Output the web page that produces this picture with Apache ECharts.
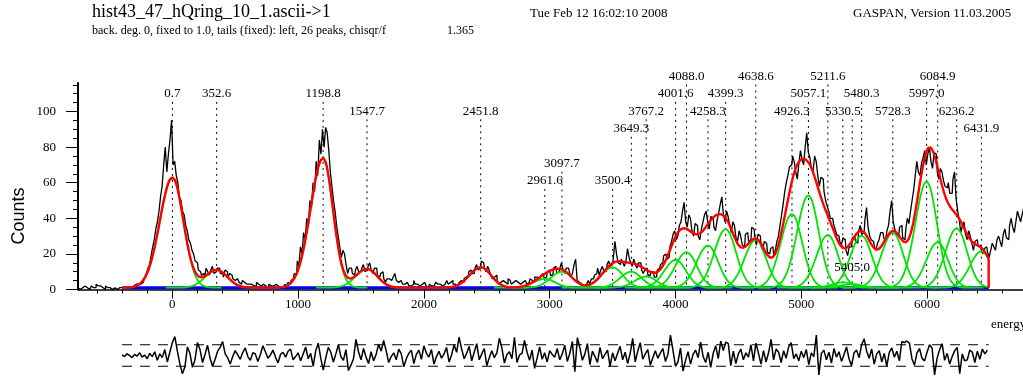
<!DOCTYPE html>
<html>
<head>
<meta charset="utf-8">
<script src="https://cdn.jsdelivr.net/npm/echarts@6/dist/echarts.min.js"></script>
<style>
  html, body { margin: 0; padding: 0; background: #fff; }
  #chart { width: 1023px; height: 377px; }
</style>
</head>
<body>
<div id="chart"></div>
<script>
// ---- measured spectrum: counts in 12.5 keV bins, first bin centred at -750 ----
const histStart = -750;
const binWidth = 12.5;
const counts = [
  // -750 .. -262.5
  1,0,0,1,2,1,1,0,1,2,1,1,3,2,2,1,1,0,2,1,1,2,0,1,1,0,1,2,1,1,2,1,1,0,1,2,2,3,3,2,
  // -250 .. 237.5
  3,4,5,7,9,12,14,19,24,28,34,38,44,52,58,70,80,66,76,84,95,70,72,64,60,52,50,44,42,36,33,28,26,22,20,16,15,11,10,8,
  // 250 .. 737.5
  9,7,12,10,8,11,13,9,10,12,12,9,9,7,11,10,7,9,8,6,5,6,6,4,3,5,4,3,2,3,3,4,2,2,4,3,2,3,3,2,
  // 750 .. 1237.5
  2,1,3,2,2,3,3,2,2,1,1,2,3,2,4,3,5,6,9,8,16,13,24,20,32,28,40,36,50,46,60,55,72,64,84,76,90,80,91,88,
  // 1250 .. 1737.5
  78,66,58,50,44,36,30,24,18,22,20,14,9,12,12,9,8,11,13,10,10,12,14,10,11,13,15,11,9,12,12,8,7,9,10,6,4,6,6,5,
  // 1750 .. 2237.5
  5,7,9,5,4,5,6,3,3,4,4,2,2,3,5,3,3,2,2,3,4,3,2,1,3,2,2,3,4,3,3,2,2,3,4,5,3,4,5,3,
  // 2250 .. 2737.5
  3,2,2,4,5,4,6,7,8,10,11,9,9,12,14,11,12,16,15,12,10,13,11,8,6,7,8,5,3,4,5,6,4,3,6,5,3,4,5,6,
  // 2750 .. 3237.5
  4,3,2,4,5,6,3,4,6,5,4,7,7,6,5,8,9,6,7,10,11,8,8,12,13,9,10,12,15,11,9,12,12,10,7,9,14,17,5,4,
  // 3250 .. 3737.5
  3,4,2,3,4,5,3,6,6,8,9,12,8,11,13,10,10,14,16,13,14,18,27,20,15,14,17,15,13,16,23,18,15,13,17,14,12,15,15,11,
  // 3750 .. 4237.5
  9,11,12,8,8,10,10,7,7,11,12,14,15,19,20,17,18,24,27,31,33,28,30,36,38,44,49,38,35,42,40,33,30,37,36,30,28,34,38,42,
  // 4250 .. 4737.5
  44,38,34,41,40,35,33,39,43,48,52,42,38,44,41,36,32,38,36,29,27,33,30,25,24,31,32,27,28,35,34,29,25,31,30,24,22,27,26,21,
  // 4750 .. 5237.5
  20,23,24,19,22,27,30,36,42,48,55,60,64,69,70,75,72,66,62,71,78,73,70,80,88,77,74,68,66,75,72,64,58,63,62,55,50,47,44,40,
  // 5250 .. 5737.5
  40,37,34,31,30,27,25,29,28,22,19,24,24,29,30,27,26,33,36,31,32,39,46,35,30,28,27,24,22,26,28,32,32,29,27,33,36,44,50,38,
  // 5750 .. 6237.5
  34,31,30,35,36,29,28,34,40,37,44,50,56,64,72,66,64,71,74,78,70,76,80,72,68,77,76,66,62,68,66,61,58,57,60,54,54,62,66,51,
  // 6250 .. 6737.5
  44,39,32,36,38,31,28,33,30,26,22,27,28,24,25,22,20,23,24,21,18,22,26,24,22,28,30,27,24,31,34,29,28,36,40,35,32,38,44,41,
  // 6750 .. 6775
  38,42,46
];

// ---- fit: constant background plus 26 peaks with a left tail ----
const fitRange = [-400, 6490];
const background = 1.0;
const peakCentroids = [0.7, 352.6, 1198.8, 1547.7, 2451.8, 2961.6, 3097.7, 3500.4, 3649.3, 3767.2,
  4001.6, 4088.0, 4258.3, 4399.3, 4638.6, 4926.3, 5057.1, 5211.6, 5330.5, 5405.0,
  5480.3, 5728.3, 5997.0, 6084.9, 6236.2, 6431.9];
const peakHeights = [62, 10, 73, 10.6, 11.5, 5, 9, 11.5, 9, 6.3,
  15.7, 20, 23.7, 33, 27, 41.5, 52, 29.7, 3, 2,
  29.3, 31, 59.7, 25.6, 33.4, 20.5];
const peakSigmaLeft = [100, 90, 100, 90, 90, 90, 90, 90, 90, 90,
  90, 90, 90, 90, 90, 90, 90, 90, 90, 90,
  90, 90, 90, 90, 90, 90];
const peakSigmaRight = [87, 85, 78, 82, 82, 82, 82, 82, 82, 82,
  82, 82, 82, 82, 82, 82, 82, 82, 82, 82,
  82, 82, 82, 82, 82, 82];

// ---- normalised residuals, 20 keV steps from -400 ----
const residualStart = -400;
const residualStep = 20;
const residuals = [
  0.1,-0.2,0.3,0,-0.4,0.2,-0.1,0.5,-0.3,0.1,-0.6,0.4,-0.2,0.7,-0.9,0.3,-0.4,1.1,-1.2,0.6,
  2.4,3.5,0.8,-1.6,-3.4,-2.1,1.6,0.4,-2.2,-0.8,2.4,1.1,-1.3,0.2,1.9,-0.5,-2.0,-0.7,0.8,1.5,
  2.6,0.3,-0.4,-1.6,-0.2,0.9,0.1,-0.7,0.6,1.4,-0.2,-0.9,0.5,0.3,-1.1,0.2,1.8,0.7,-0.5,0.1,
  1.0,-0.3,-1.4,0.2,0.6,-0.3,0.8,1.2,-0.8,-0.2,0.5,-1.0,0.3,1.6,-0.6,0.4,-2.0,0.9,2.3,-0.5,
  -2.7,-0.4,1.5,0.6,-1.2,0.3,2.0,-0.2,-0.9,1.1,-2.8,-1.8,-0.6,3.0,0.7,-0.8,1.3,-0.3,-1.5,0.7,
  -1.0,0.2,2.1,0.8,2.8,0.9,-1.3,-0.2,0.5,-0.8,1.2,0.3,-2.1,-0.6,0.4,1.0,-1.5,0.2,1.0,-0.7,
  1.8,0.4,-0.3,1.1,-1.6,-0.2,0.8,-0.5,0.3,1.5,-1.2,0.1,2.0,0.6,3.4,1.2,-0.6,0.4,1.7,-1.0,
  0.6,2.2,-0.8,0.3,1.3,-1.9,-0.4,0.9,-0.4,0.5,3.2,1.4,-1.4,0.2,0.7,-0.6,3.4,-1.3,0.1,0.4,
  2.8,0.6,-0.9,1.0,-2.4,-0.5,1.6,-0.7,0.5,-1.2,0.9,0.2,-0.3,1.3,-0.8,0.3,1.9,-1.1,0.4,2.6,
  -3.0,3.3,1.4,-0.9,0.3,2.2,-1.7,0.8,-0.2,-1.3,1.5,-0.6,0.2,1.0,-2.0,0.5,-1.0,0.4,1.7,-0.8,
  0.6,-1.5,0.4,3.2,-1.2,0.8,2.4,-0.7,0.3,1.1,-1.8,-0.4,0.9,-0.5,0.5,1.3,-1.1,0.2,3.8,1.0,
  -2.0,-1.2,1.4,-2.9,-0.9,0.7,-1.6,0.2,1.0,-0.4,2.5,-0.2,-1.3,0.6,-2.2,0.4,1.8,-0.6,2.7,0.9,
  2.5,2.2,-1.9,0.8,-1.5,0.3,1.2,-0.8,0.5,-0.3,2.0,-1.0,2.3,0.4,-1.6,0.9,-1.2,0.5,3.0,-0.8,
  1.2,0.6,-1.3,0.9,-0.5,1.6,2.4,-0.6,0.3,-1.0,0.8,-0.4,1.1,-1.7,0.5,-0.2,3.8,-3.6,0.4,1.0,
  -0.8,0.6,-1.4,1.3,-0.3,0.7,-1.1,0.2,1.6,-0.6,-1.9,0.5,1.0,-0.4,2.0,3.1,0.8,-0.5,1.2,-1.6,
  0.3,0.9,-1.2,0.4,-2.0,0.6,1.4,-0.3,0.8,-1.0,2.6,2.4,2.7,2.3,-0.6,-1.8,0.5,1.3,-0.5,-1.0,
  0.6,2.0,1.4,-3.6,-0.5,1.1,2.2,-0.9,0.4,-1.6,-0.2,0.9,1.5,-3.4,0.3,-1.0,-0.8,1.0,0.6,-1.3,
  0.8,-0.7,1.2,0.3,1.0
];
const residualBand = 2;

// ---- axis ticks ----
const xTickLabels = [0, 1000, 2000, 3000, 4000, 5000, 6000];
const yTickLabels = [0, 20, 40, 60, 80, 100];

// ---- layout of the peak labels (text row index, dotted guide start row) ----
const labelLevel = [1, 1, 1, 2, 2, 6, 5, 6, 3, 2, 1, 0, 2, 1, 0, 2, 1, 0, 2, 11, 1, 2, 1, 0, 2, 3];
const guideLevel = [1, 1, 1, 2, 2, 6, 5, 6, 3, 2, 1, 0, 2, 1, 0, 2, 1, 0, 2, 2, 1, 2, 1, 0, 2, 3];
const rowY = level => 76.5 + 17.4 * level;

const SERIF = '"Liberation Serif", "Times New Roman", serif';
const SANS = '"Liberation Sans", Arial, sans-serif';

// ---- derived series ----
const histData = counts.map((c, i) => [histStart + i * binWidth, c]);
const resData = residuals.map((r, i) => [residualStart + i * residualStep, r]);

function peakShape(x, k) {
  const d = x - peakCentroids[k];
  const s = d < 0 ? peakSigmaLeft[k] : peakSigmaRight[k];
  return peakHeights[k] * Math.exp(-d * d / (2 * s * s));
}

const fitStep = 10;
const totalFit = [];
for (let x = fitRange[0]; x <= fitRange[1] + 1e-6; x += fitStep) {
  let y = background;
  for (let k = 0; k < peakCentroids.length; k++) y += peakShape(x, k);
  totalFit.push([x, y]);
}
totalFit.push([fitRange[1], background]);

const componentSeries = peakCentroids.map((c, k) => {
  const pts = [];
  const lo = Math.max(fitRange[0], c - 4.5 * peakSigmaLeft[k]);
  const hi = Math.min(fitRange[1], c + 4.5 * peakSigmaRight[k]);
  for (let x = lo; x <= hi + 1e-6; x += fitStep) pts.push([x, background + peakShape(x, k)]);
  return {
    type: 'line', xAxisIndex: 0, yAxisIndex: 0, data: pts, symbol: 'none', silent: true,
    lineStyle: { color: '#00e400', width: 1.8 }, z: 4
  };
});

const xMinorTicks = [];
for (let v = -600; v <= 6700; v += 200) xMinorTicks.push(v);
const yMinorTicks = [];
for (let v = 0; v <= 115; v += 5) yMinorTicks.push(v);

const X_MIN = -750, X_MAX = 6763;

const chart = echarts.init(document.getElementById('chart'), null, { renderer: 'canvas' });

const option = {
  animation: false,
  backgroundColor: '#fff',
  grid: [
    { left: 78, right: 0, top: 83, height: 206.5 },
    { left: 78, right: 0, top: 334, height: 44 }
  ],
  xAxis: [
    {
      gridIndex: 0, type: 'value', min: X_MIN, max: X_MAX, position: 'bottom',
      axisLine: { onZero: false, lineStyle: { color: '#000', width: 1.5 } },
      axisTick: { customValues: xMinorTicks, length: 4, lineStyle: { color: '#000', width: 1 } },
      axisLabel: { show: false }, splitLine: { show: false }
    },
    {
      gridIndex: 0, type: 'value', min: X_MIN, max: X_MAX, position: 'bottom',
      axisLine: { show: false, onZero: false },
      axisTick: { customValues: xTickLabels, length: 9, lineStyle: { color: '#000', width: 1 } },
      axisLabel: {
        customValues: xTickLabels, margin: 9, color: '#000', fontFamily: SERIF, fontSize: 13,
        formatter: v => String(v)
      },
      splitLine: { show: false }
    },
    { gridIndex: 1, type: 'value', min: X_MIN, max: X_MAX, show: false }
  ],
  yAxis: [
    {
      gridIndex: 0, type: 'value', min: 0, max: 116, position: 'left',
      axisLine: { show: true, onZero: false, lineStyle: { color: '#000', width: 2 } },
      axisTick: { customValues: yMinorTicks, length: 5, lineStyle: { color: '#000', width: 1 } },
      axisLabel: { show: false }, splitLine: { show: false }
    },
    {
      gridIndex: 0, type: 'value', min: 0, max: 116, position: 'left',
      axisLine: { show: false, onZero: false },
      axisTick: { customValues: yTickLabels, length: 12, lineStyle: { color: '#000', width: 1 } },
      axisLabel: {
        customValues: yTickLabels, margin: 22, color: '#000', fontFamily: SERIF, fontSize: 13,
        formatter: v => String(v)
      },
      splitLine: { show: false }
    },
    { gridIndex: 1, type: 'value', min: -4, max: 4, show: false }
  ],
  series: [
    // dotted guides at each peak centroid
    {
      type: 'custom', xAxisIndex: 0, yAxisIndex: 0, z: 1, silent: true, clip: false,
      data: peakCentroids.map(c => [c, 0]),
      encode: { x: 0, y: 1 },
      renderItem: (params, api) => {
        const i = params.dataIndex;
        const p = api.coord([api.value(0), 0]);
        return {
          type: 'line',
          shape: { x1: p[0], y1: rowY(guideLevel[i]) + 8, x2: p[0], y2: p[1] },
          style: { stroke: '#000', lineWidth: 1, lineDash: [2, 4] }
        };
      }
    },
    // measured counts
    {
      type: 'line', xAxisIndex: 0, yAxisIndex: 0, data: histData, step: 'middle',
      symbol: 'none', silent: true, z: 2,
      lineStyle: { color: '#000', width: 1.3 }
    },
    // background level
    {
      type: 'line', xAxisIndex: 0, yAxisIndex: 0,
      data: [[fitRange[0], background], [fitRange[1], background]],
      symbol: 'none', silent: true, z: 3,
      lineStyle: { color: '#0000ee', width: 3 }
    },
    ...componentSeries,
    // total fit
    {
      type: 'line', xAxisIndex: 0, yAxisIndex: 0, data: totalFit, symbol: 'none', silent: true,
      z: 5, lineStyle: { color: '#ff0000', width: 2.4 }
    },
    // centroid labels
    {
      type: 'custom', xAxisIndex: 0, yAxisIndex: 0, z: 6, silent: true, clip: false,
      data: peakCentroids.map(c => [c, 0]),
      encode: { x: 0, y: 1 },
      renderItem: (params, api) => {
        const i = params.dataIndex;
        const p = api.coord([api.value(0), 0]);
        return {
          type: 'text', x: p[0], y: rowY(labelLevel[i]),
          style: {
            text: peakCentroids[i].toFixed(1), fill: '#000', fontSize: 13, fontFamily: SERIF,
            align: 'center', verticalAlign: 'middle', textAlign: 'center', textVerticalAlign: 'middle'
          }
        };
      }
    },
    // residual band
    {
      type: 'line', xAxisIndex: 2, yAxisIndex: 2,
      data: [[fitRange[0], residualBand], [fitRange[1], residualBand]],
      symbol: 'none', silent: true, z: 2,
      lineStyle: { color: '#000', width: 1, type: [10, 8] }
    },
    {
      type: 'line', xAxisIndex: 2, yAxisIndex: 2,
      data: [[fitRange[0], -residualBand], [fitRange[1], -residualBand]],
      symbol: 'none', silent: true, z: 2,
      lineStyle: { color: '#000', width: 1, type: [10, 8] }
    },
    // residuals
    {
      type: 'line', xAxisIndex: 2, yAxisIndex: 2, data: resData, symbol: 'none', silent: true,
      z: 3, clip: false, lineStyle: { color: '#000', width: 1.5 }
    }
  ],
  graphic: [
    {
      type: 'text', x: 92, y: 12.5, silent: true,
      style: { text: 'hist43_47_hQring_10_1.ascii->1', fill: '#000', fontSize: 18, fontFamily: SERIF,
        align: 'left', verticalAlign: 'middle', textAlign: 'left', textVerticalAlign: 'middle' }
    },
    {
      type: 'text', x: 92, y: 30.5, silent: true,
      style: { text: 'back. deg. 0, fixed to 1.0, tails (fixed): left, 26 peaks, chisqr/f', fill: '#000',
        fontSize: 12, fontFamily: SERIF,
        align: 'left', verticalAlign: 'middle', textAlign: 'left', textVerticalAlign: 'middle' }
    },
    {
      type: 'text', x: 447, y: 30.5, silent: true,
      style: { text: '1.365', fill: '#000', fontSize: 12, fontFamily: SERIF,
        align: 'left', verticalAlign: 'middle', textAlign: 'left', textVerticalAlign: 'middle' }
    },
    {
      type: 'text', x: 530, y: 14, silent: true,
      style: { text: 'Tue Feb 12 16:02:10 2008', fill: '#000', fontSize: 13, fontFamily: SERIF,
        align: 'left', verticalAlign: 'middle', textAlign: 'left', textVerticalAlign: 'middle' }
    },
    {
      type: 'text', x: 853, y: 14, silent: true,
      style: { text: 'GASPAN, Version 11.03.2005', fill: '#000', fontSize: 13, fontFamily: SERIF,
        align: 'left', verticalAlign: 'middle', textAlign: 'left', textVerticalAlign: 'middle' }
    },
    {
      type: 'text', x: 19, y: 216, rotation: Math.PI / 2, silent: true,
      style: { text: 'Counts', fill: '#000', fontSize: 18, fontFamily: SANS,
        align: 'center', verticalAlign: 'middle', textAlign: 'center', textVerticalAlign: 'middle' }
    },
    {
      type: 'text', x: 991, y: 325, silent: true,
      style: { text: 'energy', fill: '#000', fontSize: 13, fontFamily: SERIF,
        align: 'left', verticalAlign: 'middle', textAlign: 'left', textVerticalAlign: 'middle' }
    }
  ]
};

chart.setOption(option);
</script>
</body>
</html>
